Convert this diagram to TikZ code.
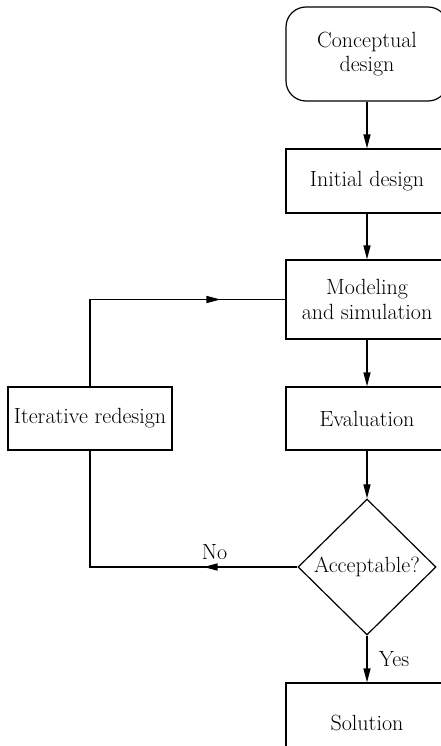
\documentclass[tikz,border=0pt]{standalone}
\usetikzlibrary{arrows.meta,shapes.geometric,decorations.markings}
\begin{document}
\begin{tikzpicture}[
  x=1pt,
  y=1pt,
  font=\fontsize{22}{24.5}\selectfont,
  stagebox/.style={
    draw=black,
    line width=1.2pt,
    minimum width=162,
    inner sep=0pt,
    align=center
  },
  startbox/.style={
    stagebox,
    rounded corners=20pt
  },
  decision/.style={
    draw=black,
    line width=1.2pt,
    diamond,
    minimum width=138,
    minimum height=136,
    inner sep=0pt
  },
  flowline/.style={
    draw=black,
    line width=1.2pt,
    -{Triangle[length=14pt,width=7pt]}
  },
  loopline/.style={
    draw=black,
    line width=1.2pt,
    postaction={decorate},
    decoration={markings,
      mark=at position #1 with {\arrow{Triangle[length=14pt,width=7pt]}}}
  }
]

\useasboundingbox (0,0) rectangle (440,-746);

\node[startbox, minimum height=94] (concept) at (367,-54) {Conceptual\\design};
\node[stagebox, minimum height=64] (initial) at (367,-181) {Initial design};
\node[stagebox, minimum height=79] (model) at (367,-299.5) {Modeling\\and simulation};
\node[stagebox, minimum height=63] (eval) at (367,-418.5) {Evaluation};
\node[stagebox, minimum height=63, minimum width=164] (redesign) at (90,-418.5) {Iterative redesign};
\node[decision] (accept) at (367,-567) {};
\node (acceptlabel) at (accept) {Acceptable?};
\node[stagebox, minimum height=80] (solution) at (367,-723) {Solution};

\draw[flowline] (concept) -- (initial);
\draw[flowline] (initial) -- (model);
\draw[flowline] (model) -- (eval);
\draw[flowline] (eval) -- (accept);
\draw[flowline] (accept) -- node[right=8pt] (yeslabel) {Yes} (solution);

\draw[loopline=0.77] (redesign.north) |- (model.west);
\draw[loopline=0.29] (accept.west) -| node[pos=0.2, above=3pt] (nolabel) {No} (redesign.south);

\end{tikzpicture}
\end{document}
